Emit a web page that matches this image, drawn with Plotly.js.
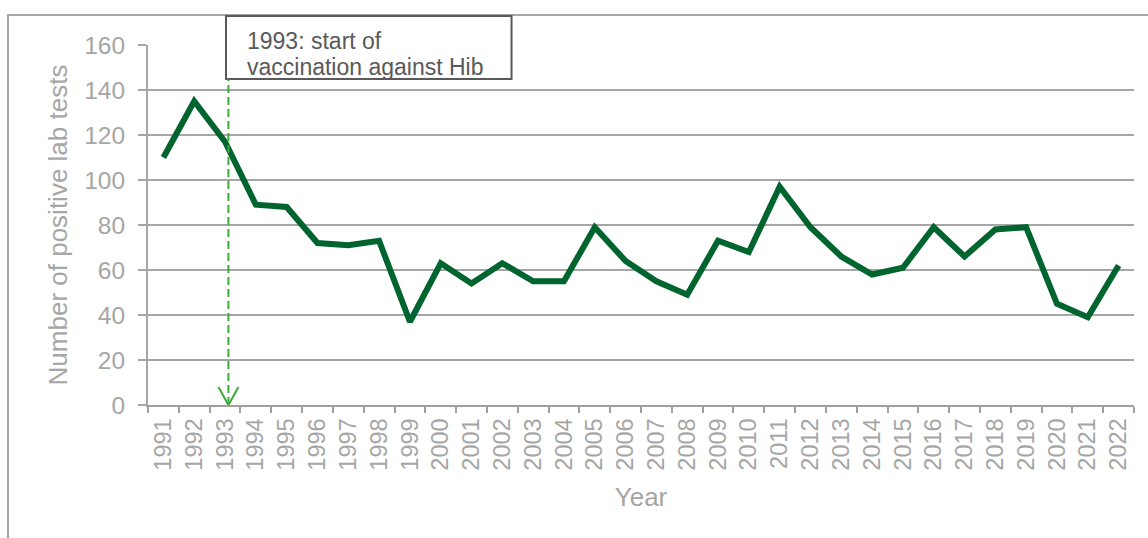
<!DOCTYPE html>
<html><head><meta charset="utf-8">
<script src="https://cdn.plot.ly/plotly-3.0.1.min.js"></script>
<style>
html,body{margin:0;padding:0;background:#fff;overflow:hidden;}
#wrap{position:relative;width:1148px;height:538px;}
#frame{position:absolute;left:7px;top:14px;width:1160px;height:540px;border-left:2px solid #a6a6a6;border-top:2px solid #a6a6a6;box-sizing:border-box;}
#chart{position:absolute;left:0;top:0;width:1148px;height:538px;}
</style></head>
<body><div id="wrap"><div id="frame"></div><div id="chart"></div></div>
<script>
const years = ['1991','1992','1993','1994','1995','1996','1997','1998','1999','2000','2001','2002','2003','2004','2005','2006','2007','2008','2009','2010','2011','2012','2013','2014','2015','2016','2017','2018','2019','2020','2021','2022'];
const positiveTests = [110,135,117,89,88,72,71,73,37,63,54,63,55,55,79,64,55,49,73,68,97,79,66,58,61,79,66,78,79,45,39,62];
const yTicks = [0,20,40,60,80,100,120,140,160];
const noteLines = ['1993: start of', 'vaccination against Hib'];
const vaccinationStart = 2.11; // category position (1993) of the dashed marker

const FONT = '"Liberation Sans", Arial, sans-serif';
const GREY = '#a6a6a6';

const trace = {
  x: years, y: positiveTests, type: 'scatter', mode: 'lines',
  line: {color: '#00642f', width: 6}, hoverinfo: 'x+y'
};

const noteTops = [1.05, 0.978];

const layout = {
  width: 1148, height: 538,
  margin: {l: 148, r: 14, t: 45, b: 133},
  paper_bgcolor: 'rgba(0,0,0,0)', plot_bgcolor: 'rgba(0,0,0,0)',
  font: {family: FONT, color: GREY},
  showlegend: false,
  xaxis: {
    type: 'category', range: [-0.5, years.length - 0.5],
    tickson: 'boundaries', ticks: 'outside', ticklen: 6, tickwidth: 2, tickcolor: '#a0a0a0',
    showline: true, linecolor: '#a0a0a0', linewidth: 2, showgrid: false, zeroline: false,
    tickangle: -90, tickfont: {family: FONT, size: 23.5, color: GREY}, ticklabelstandoff: 2,
    title: {text: 'Year', font: {family: FONT, size: 26, color: GREY}, standoff: 18},
    automargin: false, fixedrange: true
  },
  yaxis: {
    range: [0, 160], tickvals: yTicks, ticktext: yTicks.map(String),
    ticks: 'outside', ticklen: 8, tickwidth: 2, tickcolor: GREY,
    showline: true, linecolor: GREY, linewidth: 2,
    showgrid: true, gridcolor: GREY, gridwidth: 2, zeroline: false,
    tickfont: {family: FONT, size: 24.5, color: GREY}, ticklabelstandoff: 8,
    title: {text: 'Number of positive lab tests', font: {family: FONT, size: 26, color: GREY}, standoff: 9},
    automargin: false, fixedrange: true
  },
  shapes: [
    {type: 'rect', xref: 'paper', yref: 'paper', x0: 0.0791, x1: 0.3687, y0: 0.9056, y1: 1.0806,
     line: {color: '#595959', width: 2}, fillcolor: '#ffffff', layer: 'above'},
    {type: 'line', xref: 'x', yref: 'paper', x0: vaccinationStart, x1: vaccinationStart, y0: 0, y1: 0.9056,
     line: {color: '#3cab3c', width: 2, dash: '8px,4px'}, layer: 'above'},
    {type: 'path', xref: 'x', yref: 'y', xsizemode: 'pixel', ysizemode: 'pixel',
     xanchor: vaccinationStart, yanchor: 0, path: 'M-10,18 L0,0 L10,18',
     line: {color: '#3cab3c', width: 2}, layer: 'above'}
  ],
  annotations: noteLines.map((t, i) => ({
    xref: 'paper', yref: 'paper', x: 0.0994, y: noteTops[i], xanchor: 'left', yanchor: 'top',
    text: t, align: 'left', showarrow: false, borderpad: 0,
    font: {family: FONT, size: 23, color: '#595959'}
  }))
};

Plotly.newPlot('chart', [trace], layout, {displayModeBar: false, staticPlot: true});
</script>
</body></html>
